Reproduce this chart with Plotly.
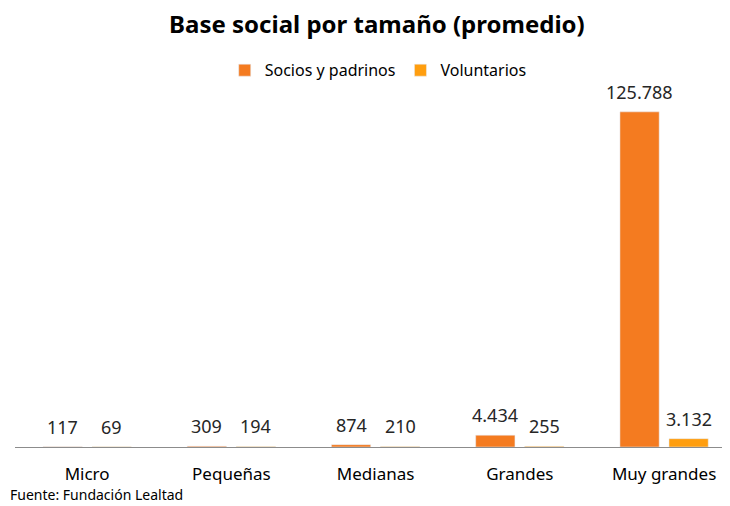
import plotly.graph_objects as go

categories = ["Micro", "Pequeñas", "Medianas", "Grandes", "Muy grandes"]
socios = [117, 309, 874, 4434, 125788]
voluntarios = [69, 194, 210, 255, 3132]

orange = "#F47B20"
amber = "#FF9E0F"
font_family = "Noto Sans, Open Sans, sans-serif"

# the page body has an 8px margin, so the figure is a bit smaller than the window
W, H = 722, 498
fig = go.Figure()

fig.add_trace(go.Bar(
    x=categories,
    y=socios,
    name="Socios y padrinos",
    marker=dict(color=orange),
))

fig.add_trace(go.Bar(
    x=categories,
    y=voluntarios,
    name="Voluntarios",
    marker=dict(color=amber),
))

# value labels above each bar
bar_offset = 24.5
for series, shift in ((socios, -bar_offset), (voluntarios, bar_offset)):
    for cat, val in zip(categories, series):
        fig.add_annotation(
            x=cat, y=val,
            xref="x", yref="y",
            text=f"{val:,}".replace(",", "."),
            showarrow=False,
            xshift=shift, yshift=6,
            xanchor="center", yanchor="bottom",
            font=dict(size=18, color="#262626"),
        )

fig.update_layout(
    width=W,
    height=H,
    margin=dict(l=7, r=0, t=66, b=59),
    paper_bgcolor="white",
    plot_bgcolor="white",
    separators=",.",
    font=dict(family=font_family, color="#000000"),
    barmode="group",
    bargap=0.32,
    bargroupgap=0.2,
    title=dict(
        text="<b>Base social por tamaño (promedio)</b>",
        x=0.511, xanchor="center",
        y=0.966, yanchor="middle",
        font=dict(size=24, color="#000000"),
    ),
    legend=dict(
        orientation="h",
        x=0.508, xanchor="center",
        y=1.01, yanchor="middle",
        font=dict(size=16, color="#000000"),
        itemwidth=30,
        bgcolor="rgba(0,0,0,0)",
    ),
    showlegend=True,
)

fig.update_xaxes(
    showline=True,
    linecolor="#8C8C8C",
    linewidth=1,
    ticks="",
    range=[-0.5, 4.457],
    ticklabelstandoff=12,
    tickfont=dict(size=17, color="#000000"),
    showgrid=False,
)
fig.update_yaxes(
    visible=False,
    range=[0, 140000],
    showgrid=False,
)

fig.add_annotation(
    text="Fuente: Fundación Lealtad",
    xref="paper", yref="paper",
    x=-0.01, y=-0.128,
    xanchor="left", yanchor="middle",
    showarrow=False,
    font=dict(size=14, color="#000000"),
)

fig.write_html("out.html")
